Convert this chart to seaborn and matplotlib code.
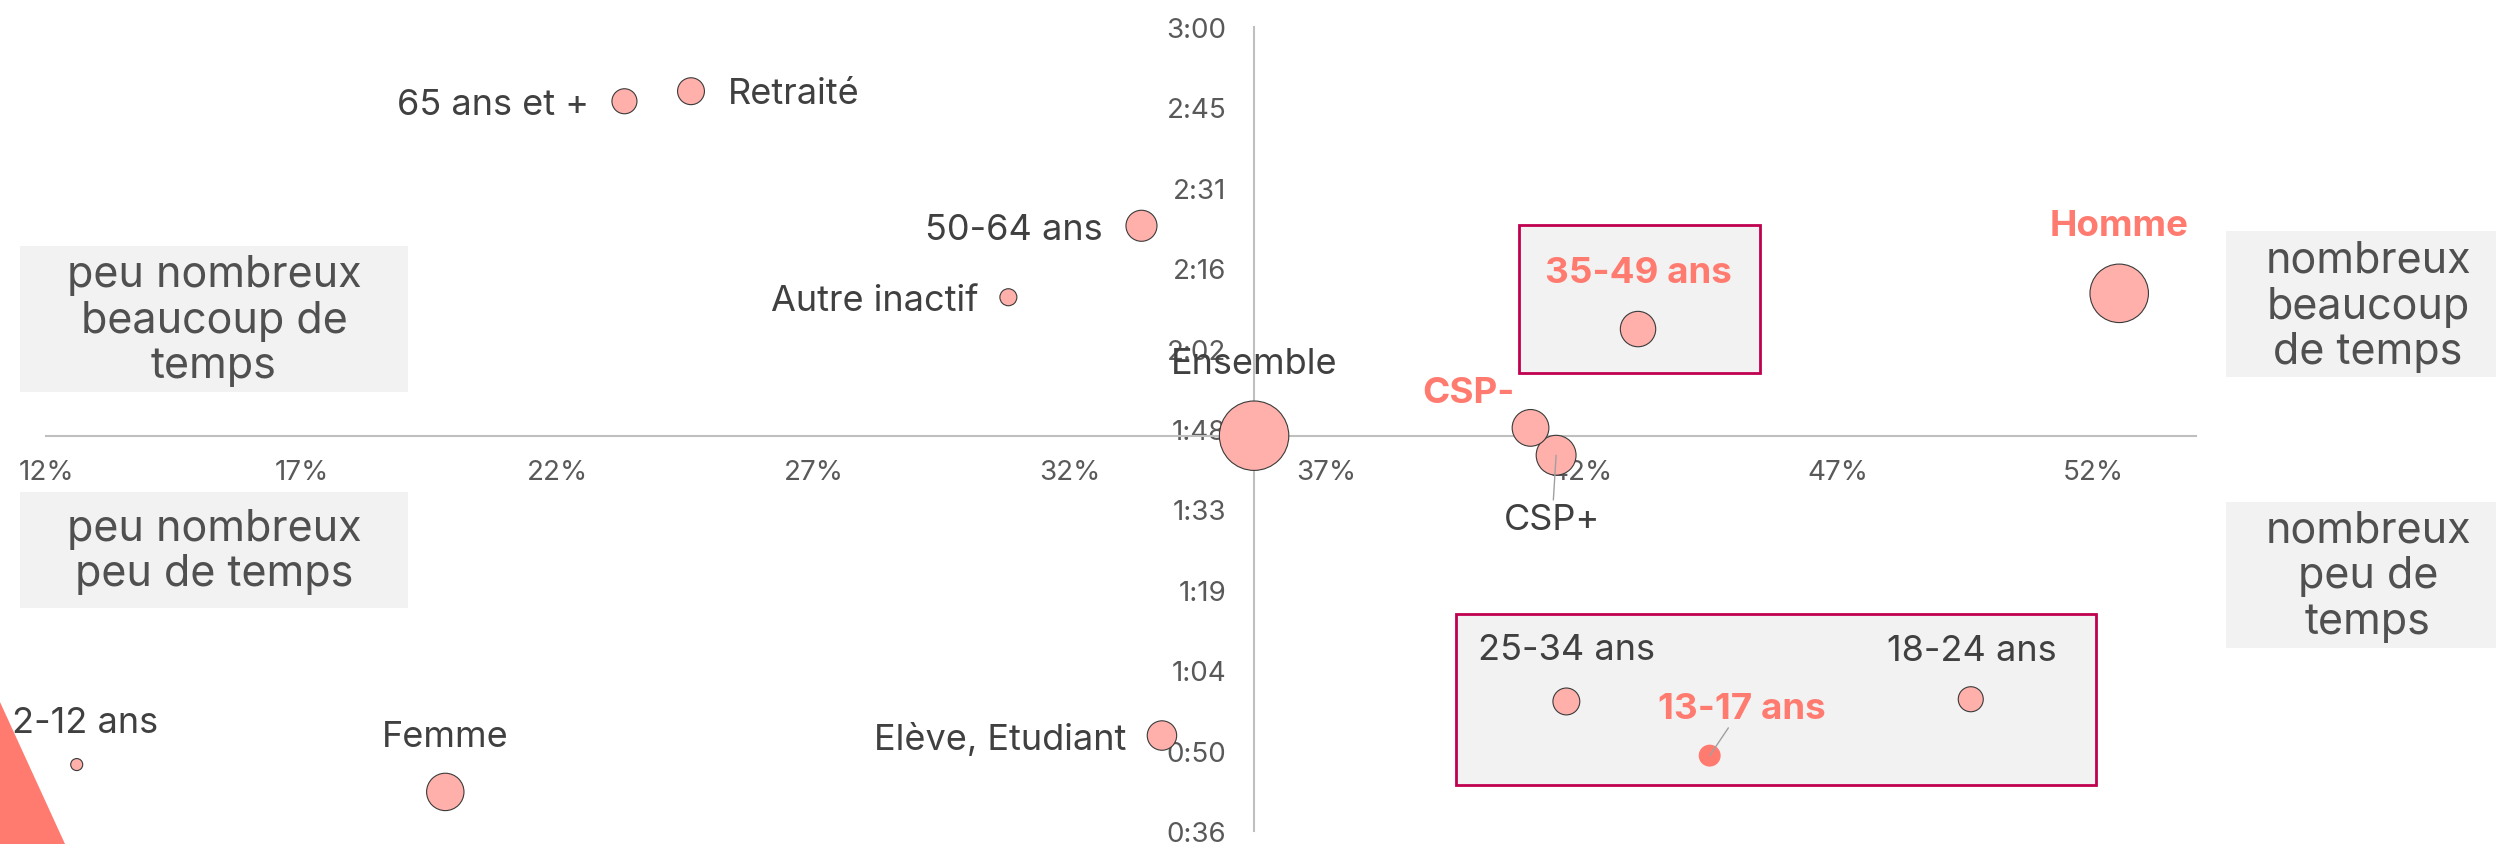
import matplotlib
matplotlib.use("Agg")
import matplotlib.pyplot as plt
import matplotlib.patches as mpatches
from matplotlib.colors import to_rgba
from matplotlib.ticker import FixedLocator
import pandas as pd
import seaborn as sns

# Données lues sur le graphique
# part : part d'audience (%), duree_min : durée d'écoute (minutes), poids : taille de la cible
cibles = ["Ensemble", "Homme", "Femme", "2-12 ans", "13-17 ans", "18-24 ans",
          "25-34 ans", "35-49 ans", "50-64 ans", "65 ans et +", "CSP+", "CSP-",
          "Retraité", "Elève, Etudiant", "Autre inactif"]
part = [35.6, 52.5, 19.8, 12.6, 44.5, 49.6, 41.7, 43.1, 33.4, 23.3, 41.5, 41.0, 24.6, 33.8, 30.8]
duree_min = [106.8, 132.3, 43.0, 47.9, 49.5, 59.6, 59.2, 125.9, 144.4, 166.7, 103.3, 108.2, 168.5, 53.1, 131.6]
poids = [100, 71, 29, 3, 10, 13, 15, 26, 20, 13, 33, 28, 15, 18, 6]

cible_point_fonce = ["13-17 ans"]
cibles_en_gras = ["Homme", "35-49 ans", "CSP-", "13-17 ans"]

x_ticks = [12, 17, 22, 27, 32, 37, 42, 47, 52]
x_tick_labels = ["12%", "17%", "22%", "27%", "32%", "37%", "42%", "47%", "52%"]
y_ticks = [36, 50.4, 64.8, 79.2, 93.6, 108, 122.4, 136.8, 151.2, 165.6, 180]
y_tick_labels = ["0:36", "0:50", "1:04", "1:19", "1:33", "1:48", "2:02", "2:16", "2:31", "2:45", "3:00"]

quadrants = ["peu nombreux\nbeaucoup de\ntemps", "peu nombreux\npeu de temps",
             "nombreux\nbeaucoup\nde temps", "nombreux\npeu de\ntemps"]

# --- mise en page (pixels de la figure 2496x845) ---
W, H = 2496, 845
SAUMON = "#FFB0AA"
SAUMON_FONCE = "#FF7B70"
TEXTE = "#404040"
K = 24.97  # pt² par unité de poids

# decalage des étiquettes (px, vers le haut positif) et alignement
decalages = {
    "Ensemble": (0, 76, "center"), "Homme": (0, 71, "center"), "Femme": (0, 59, "center"),
    "2-12 ans": (-65, 46, "left"), "13-17 ans": (32, 51, "center"),
    "18-24 ans": (1, 52, "center"), "25-34 ans": (0, 55, "center"),
    "35-49 ans": (0, 60, "center"), "50-64 ans": (-39, 0, "right"),
    "65 ans et +": (-35, 0, "right"), "CSP+": (-4, -61, "center"),
    "CSP-": (-62, 39, "center"), "Retraité": (37, 1, "left"),
    "Elève, Etudiant": (-36, 0, "right"), "Autre inactif": (-30, 0, "right"),
}
avec_trait = ["CSP+", "13-17 ans"]

# cadres rouges autour des cibles mises en avant (coordonnées données)
cadres = [(40.78, 118.0, 45.48, 144.5), (39.54, 44.3, 52.04, 74.9)]

# boîtes grises des quadrants (px : x0, y_haut, x1, y_bas, centre texte x, y)
boites = [(20, 247, 408, 393, 214, 321), (20, 493, 408, 609, 214, 552),
          (2226, 232, 2496, 378, 2368, 307), (2226, 503, 2496, 649, 2368, 577)]

sns.set_theme(style="white")
plt.rcParams["font.family"] = ["Inter", "DejaVu Sans"]

df = pd.DataFrame({"cible": cibles, "part": part, "duree": duree_min, "poids": poids})
df["groupe"] = ["fonce" if c in cible_point_fonce else "normal" for c in df["cible"]]

fig = plt.figure(figsize=(W / 100, H / 100), dpi=100)
ax = fig.add_axes([46 / W, 13 / H, 2150 / W, 804 / H])

sns.scatterplot(data=df, x="part", y="duree", size="poids", sizes=(3 * K, 100 * K),
                size_norm=(3, 100), hue="groupe",
                palette={"normal": SAUMON, "fonce": SAUMON_FONCE},
                edgecolor="#3A3A3A", linewidth=0.8, legend=False, ax=ax,
                zorder=3, clip_on=False)
pts = ax.collections[-1]
pts.set_edgecolors([to_rgba("#3A3A3A") if g == "normal" else (0, 0, 0, 0) for g in df["groupe"]])

ax.set_xlim(12, 54)
ax.set_ylim(36, 180)
ax.set_xlabel("")
ax.set_ylabel("")

ens = df[df["cible"] == "Ensemble"].iloc[0]
for s in ["top", "right"]:
    ax.spines[s].set_visible(False)
ax.spines["left"].set_position(("data", ens["part"]))
ax.spines["bottom"].set_position(("data", ens["duree"]))
for s in ["left", "bottom"]:
    ax.spines[s].set_color("#BFBFBF")
    ax.spines[s].set_linewidth(1.5)
    ax.spines[s].set_zorder(1)

ax.xaxis.set_major_locator(FixedLocator(x_ticks))
ax.set_xticklabels(x_tick_labels)
ax.yaxis.set_major_locator(FixedLocator(y_ticks))
ax.set_yticklabels(y_tick_labels)
ax.tick_params(length=0, labelsize=20, labelcolor="#595959")
ax.tick_params(axis="x", pad=17)
ax.tick_params(axis="y", pad=20)
ax.patch.set_alpha(0)

for x0, y0, x1, y1 in cadres:
    ax.add_patch(mpatches.Rectangle((x0, y0), x1 - x0, y1 - y0, facecolor="#F2F2F2",
                                    edgecolor="#C00050", linewidth=2, zorder=0.5))

for _, r in df.iterrows():
    dx, dy, ha = decalages[r["cible"]]
    gras = r["cible"] in cibles_en_gras
    props = None
    if r["cible"] in avec_trait:
        props = dict(arrowstyle="-", color="#A0A0A0", lw=1, shrinkA=0, shrinkB=0)
    ax.annotate(r["cible"], xy=(r["part"], r["duree"]), xytext=(dx * 0.72, dy * 0.72),
                textcoords="offset points", ha=ha, va="center_baseline",
                fontsize=26.5 if gras else 26, fontweight="bold" if gras else "normal",
                color=SAUMON_FONCE if gras else TEXTE, zorder=5, arrowprops=props)

for texte, (x0, y0, x1, y1, cx, cy) in zip(quadrants, boites):
    fig.patches.append(mpatches.Rectangle((x0 / W, 1 - y1 / H), (x1 - x0) / W, (y1 - y0) / H,
                                          transform=fig.transFigure, facecolor="#F2F2F2",
                                          edgecolor="none", zorder=0))
    fig.text(cx / W, 1 - cy / H, texte, ha="center", va="center", multialignment="center",
             fontsize=31, linespacing=1.15, color="#505050")

# triangle décoratif en bas à gauche
fig.patches.append(mpatches.Polygon([(0, 1 - 703 / H), (0, 0), (65 / W, 0)], closed=True,
                                    transform=fig.transFigure, facecolor=SAUMON_FONCE,
                                    edgecolor="none", zorder=0))

fig.savefig("out.png", dpi=100)
